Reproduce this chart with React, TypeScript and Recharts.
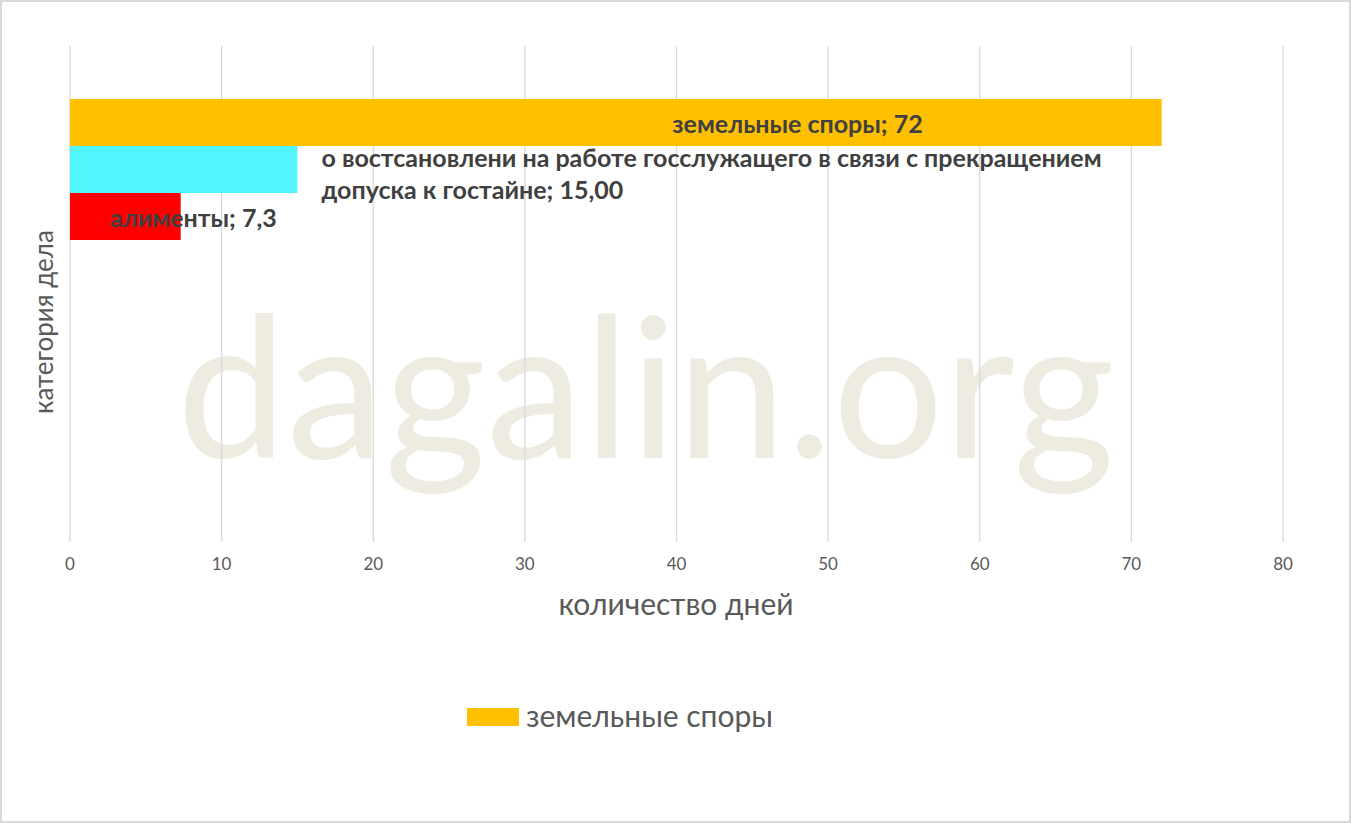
import { BarChart, Bar, XAxis, YAxis, CartesianGrid, LabelList } from 'recharts';

// categories of the (hidden) vertical axis: only the first one holds bars
const categories = ['1', '2'];
const seriesNames = [
  'земельные споры',
  'о востсановлени на работе госслужащего в связи с прекращением допуска к гостайне',
  'алименты',
];
const seriesValues = [72, 15, 7.3];
const valueLabels = ['72', '15,00', '7,3'];
const xTicks = [0, 10, 20, 30, 40, 50, 60, 70, 80];

const xTitle = 'количество дней';
const yTitle = 'категория дела';
const watermark = 'dagalin.org';

const colors = ['#FFC000', '#53F5FC', '#FF0000'];
const FONT = 'Lato, "Open Sans", sans-serif';
const W = 1351;
const H = 823;

const data = categories.map((category, i) => {
  const row: Record<string, any> = { category };
  seriesValues.forEach((v, s) => {
    row['s' + s] = i === 0 ? v : null;
  });
  return row;
});

// naive word wrap by character count
function wrap(text: string, max: number) {
  const lines: string[] = [];
  let cur = '';
  for (const w of text.split(' ')) {
    if (cur && (cur + ' ' + w).length > max) {
      lines.push(cur);
      cur = w;
    } else {
      cur = cur ? cur + ' ' + w : w;
    }
  }
  if (cur) lines.push(cur);
  return lines;
}

function makeLabel(s: number) {
  return (props: any) => {
    const { x, y, width, height } = props;
    if (width == null || !height) return null;
    const text = `${seriesNames[s]}; ${valueLabels[s]}`;
    const common = {
      fill: '#404040',
      fontFamily: FONT,
      fontWeight: 700,
      fontSize: 25,
    };
    if (s === 0) {
      return (
        <text x={x + width - 239} y={y + height / 2} textAnchor="end" dominantBaseline="central" {...common}>
          {text}
        </text>
      );
    }
    if (s === 1) {
      const lines = wrap(text, 62);
      return (
        <text {...common} dominantBaseline="central">
          {lines.map((l, i) => (
            <tspan key={i} x={x + width + 24} y={y + 11 + i * 32}>
              {l}
            </tspan>
          ))}
        </text>
      );
    }
    return (
      <text x={x + 40} y={y + height / 2} dominantBaseline="central" {...common}>
        {text}
      </text>
    );
  };
}

export default function App() {
  return (
    <div
      style={{
        position: 'absolute',
        left: 0,
        top: 0,
        width: W,
        height: H,
        background: '#fff',
        boxSizing: 'border-box',
        border: '2px solid #d9d9d9',
      }}
    >
      {/* background layer: watermark, titles, legend */}
      <svg width={W} height={H} style={{ position: 'absolute', left: -2, top: -2 }}>
        <text x={177} y={458} fontFamily={FONT} fontSize={196} fill="#EEEBE0">
          {watermark}
        </text>
        <text
          x={676}
          y={615}
          textAnchor="middle"
          fontFamily={FONT}
          fontSize={30}
          fill="#595959"
        >
          {xTitle}
        </text>
        <text
          transform="translate(53 322) rotate(-90)"
          textAnchor="middle"
          fontFamily={FONT}
          fontSize={26}
          fill="#595959"
        >
          {yTitle}
        </text>
        <rect x={467} y={708} width={52} height={18} fill={colors[0]} />
        <text x={526} y={727} fontFamily={FONT} fontSize={30} fill="#595959">
          {seriesNames[0]}
        </text>
      </svg>
      <div style={{ position: 'absolute', left: -2, top: -2 }}>
        <BarChart
          width={W}
          height={H}
          data={data}
          layout="vertical"
          margin={{ top: 46, right: 68, bottom: 0, left: 70 }}
          barCategoryGap="21.4%"
          barGap={0}
        >
          <CartesianGrid horizontal={false} stroke="#d9d9d9" strokeWidth={1.3} />
          <XAxis
            type="number"
            domain={[0, 80]}
            ticks={xTicks}
            axisLine={false}
            tickLine={false}
            tickSize={0}
            tickMargin={16}
            height={281}
            tick={{ fill: '#595959', fontSize: 17, fontFamily: FONT }}
          />
          <YAxis type="category" dataKey="category" hide />
          {seriesValues.map((_, s) => (
            <Bar key={s} dataKey={'s' + s} name={seriesNames[s]} fill={colors[s]} isAnimationActive={false}>
              <LabelList dataKey={'s' + s} content={makeLabel(s)} />
            </Bar>
          ))}
        </BarChart>
      </div>
    </div>
  );
}
